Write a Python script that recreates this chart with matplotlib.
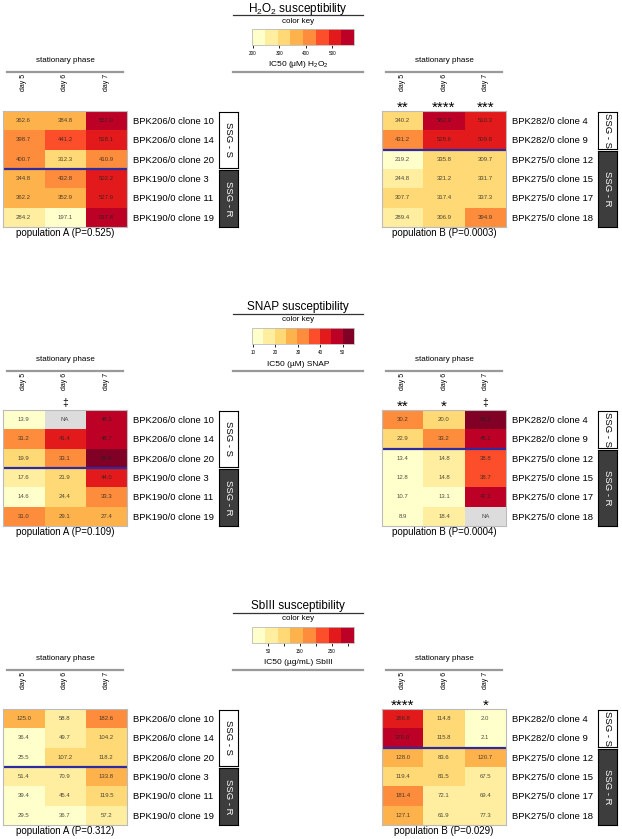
import numpy as np
import matplotlib
matplotlib.use("Agg")
import matplotlib.pyplot as plt
from matplotlib.colors import ListedColormap, BoundaryNorm
from matplotlib.colorbar import ColorbarBase

plt.rcParams["font.family"] = ["Liberation Sans", "DejaVu Sans"]
plt.rcParams["mathtext.fontset"] = "custom"
plt.rcParams["mathtext.rm"] = "Liberation Sans"
plt.rcParams["mathtext.default"] = "rm"

# ---- data -------------------------------------------------------------
days = ["day 5", "day 6", "day 7"]
clones_a = ["BPK206/0 clone 10", "BPK206/0 clone 14", "BPK206/0 clone 20",
            "BPK190/0 clone 3", "BPK190/0 clone 11", "BPK190/0 clone 19"]
clones_b = ["BPK282/0 clone 4", "BPK282/0 clone 9",
            "BPK275/0 clone 12", "BPK275/0 clone 15", "BPK275/0 clone 17", "BPK275/0 clone 18"]
groups_a = [3, 3]
groups_b = [2, 4]
group_names = ["SSG - S", "SSG - R"]

h2o2_a = [[362.6, 384.8, 557.0],
          [398.7, 441.2, 518.1],
          [400.7, 312.3, 410.9],
          [344.8, 432.8, 502.2],
          [362.2, 352.9, 527.9],
          [284.2, 197.1, 537.8]]
h2o2_b = [[340.2, 582.3, 510.3],
          [431.2, 528.6, 509.8],
          [219.2, 335.8, 309.7],
          [244.8, 321.2, 331.7],
          [307.7, 317.4, 337.3],
          [289.4, 306.9, 394.9]]
snap_a = [[13.9, np.nan, 48.3],
          [31.2, 41.4, 48.7],
          [19.9, 33.1, 55.0],
          [17.6, 21.9, 44.0],
          [14.6, 24.4, 33.3],
          [31.0, 29.1, 27.4]]
snap_b = [[30.2, 20.0, 58.2],
          [22.9, 33.2, 45.1],
          [13.4, 14.8, 38.8],
          [12.8, 14.8, 38.7],
          [10.7, 13.1, 47.1],
          [8.9, 18.4, np.nan]]
sb_a = [[125.0, 58.8, 182.6],
        [36.4, 49.7, 104.2],
        [25.5, 107.2, 118.2],
        [51.4, 70.9, 133.8],
        [39.4, 45.4, 119.5],
        [29.5, 36.7, 57.2]]
sb_b = [[266.8, 114.8, 2.0],
        [370.0, 115.8, 2.1],
        [128.0, 83.6, 120.7],
        [119.4, 81.5, 67.5],
        [181.4, 72.1, 69.4],
        [127.1, 61.9, 77.3]]

no_marks = ["", "", ""]
h2o2_b_marks = ["**", "****", "***"]
snap_a_marks = ["", "\u2021", ""]
snap_b_marks = ["**", "*", "\u2021"]
sb_b_marks = ["****", "", "*"]

h2o2_p = ["0.525", "0.0003"]
snap_p = ["0.109", "0.0004"]
sb_p = ["0.312", "0.029"]

ylorrd = ["#FFFFCC", "#FFEDA0", "#FED976", "#FEB24C", "#FD8D3C",
          "#FC4E2A", "#E31A1C", "#BD0026", "#800026"]
h2o2_range = [196, 583]
snap_range = [9.6, 55.0]
sb_range = [0, 320]
h2o2_ticks = [200, 300, 400, 500]
h2o2_ticklabels = ["200", "300", "400", "500"]
snap_ticks = [10, 20, 30, 40, 50]
snap_ticklabels = ["10", "20", "30", "40", "50"]
sb_ticks = [50, 100, 150, 200, 250, 300]
sb_ticklabels = ["50", "", "150", "", "250", ""]

# ---- layout -----------------------------------------------------------
W, H = 622, 839
PT = 0.72          # points per pixel at 100 dpi
ROW_H = 19.3
HM_W = 124

fig = plt.figure(figsize=(W / 100, H / 100), dpi=100)


def px_axes(x0, y0, x1, y1):
    return fig.add_axes([x0 / W, 1 - y1 / H, (x1 - x0) / W, (y1 - y0) / H])


def draw_key(top, title, label, colors, rng, ticks, ticklabels):
    kx = px_axes(233, top - 96, 363, top - 39)
    kx.set_xticks([])
    kx.set_yticks([])
    kx.patch.set_alpha(0)
    kx.spines["left"].set_visible(False)
    kx.spines["right"].set_visible(False)
    kx.spines["top"].set_color("#333333")
    kx.spines["top"].set_linewidth(0.9)
    kx.spines["bottom"].set_color("#999999")
    kx.spines["bottom"].set_linewidth(1.6)
    kx.annotate(title, xy=(0.5, 1), xycoords="axes fraction", xytext=(0, 3.5 * PT),
                textcoords="offset points", ha="center", va="baseline", fontsize=8.5)
    kx.text(0.5, 1 - 6 / 57, "color key", ha="center", va="center", fontsize=5.8,
            transform=kx.transAxes)
    kx.text(0.5, 7 / 57, label, ha="center", va="center", fontsize=6,
            transform=kx.transAxes)
    cmap = ListedColormap(colors)
    norm = BoundaryNorm(np.linspace(rng[0], rng[1], len(colors) + 1), len(colors))
    cax = px_axes(252, top - 82, 354, top - 66)
    cb = ColorbarBase(cax, cmap=cmap, norm=norm, orientation="horizontal", ticks=ticks)
    cb.set_ticklabels(ticklabels)
    cb.minorticks_off()
    cax.tick_params(labelsize=3.3, length=2.5, width=0.6, pad=1.5)
    cb.outline.set_edgecolor("#BBBBBB")
    cb.outline.set_linewidth(0.6)


def draw_panel(x0, top, vals, clones, groups, marks, pop, colors, rng):
    n = len(clones)
    cmap = ListedColormap(colors)
    cmap.set_bad("#DCDCDC")
    norm = BoundaryNorm(np.linspace(rng[0], rng[1], len(colors) + 1), len(colors), clip=True)
    arr = np.array(vals, dtype=float)
    ax = px_axes(x0, top, x0 + HM_W, top + n * ROW_H)
    ax.imshow(np.ma.masked_invalid(arr), cmap=cmap, norm=norm, aspect="auto",
              interpolation="nearest")
    for i in range(n):
        for j in range(len(days)):
            v = arr[i, j]
            txt = "NA" if np.isnan(v) else f"{v:.1f}"
            ax.text(j, i, txt, ha="center", va="center", fontsize=4.3,
                    color="#222222", alpha=0.8)
    ax.xaxis.tick_top()
    ax.set_xticks(range(len(days)), days, rotation=90, fontsize=5)
    ax.tick_params(axis="x", length=0, pad=20 * PT)
    ax.yaxis.tick_right()
    ax.set_yticks(range(n), clones, fontsize=6.8)
    ax.tick_params(axis="y", length=0, pad=6 * PT)
    for s in ax.spines.values():
        s.set_color("#BBBBBB")
        s.set_linewidth(0.8)
    ax.axhline(groups[0] - 0.5, color="#2c2ca0", lw=1.6)

    for j, m in enumerate(marks):
        if m == "\u2021":
            ax.annotate(m, xy=(j, -0.5), xytext=(0, 2 * PT), textcoords="offset points",
                        ha="center", va="bottom", fontsize=7.5, annotation_clip=False)
        elif m:
            ax.annotate(m, xy=(j, -0.5), xytext=(0, -1 * PT), textcoords="offset points",
                        ha="center", va="baseline", fontsize=11, annotation_clip=False)

    ax.annotate("stationary phase", xy=(0.5, 1), xycoords="axes fraction",
                xytext=(0, 51 * PT), textcoords="offset points",
                ha="center", va="center", fontsize=5.8)
    ax.plot([4 / HM_W, 1 - 4 / HM_W], [1 + 39 / (n * ROW_H)] * 2, transform=ax.transAxes,
            clip_on=False, color="#999999", lw=1.6)
    ax.annotate(pop, xy=(0.5, 0), xycoords="axes fraction", xytext=(0, -1 * PT),
                textcoords="offset points", ha="center", va="top", fontsize=7)
    ax.set_xlim(-0.5, len(days) - 0.5)
    ax.set_ylim(n - 0.5, -0.5)

    r0 = 0
    for k, (g, name) in enumerate(zip(groups, group_names)):
        y0 = top + r0 * ROW_H + 1
        y1 = top + (r0 + g) * ROW_H - (1 if k == 0 else 0)
        bx = px_axes(x0 + 216, y0, x0 + 235, y1)
        dark = name.endswith("R")
        bx.set_facecolor("#3d3d3d" if dark else "white")
        bx.set_xticks([])
        bx.set_yticks([])
        for s in bx.spines.values():
            s.set_color("black")
            s.set_linewidth(0.8)
        bx.text(0.5, 0.5, name, rotation=270, ha="center", va="center", fontsize=6.8,
                color="white" if dark else "black", transform=bx.transAxes, clip_on=True)
        r0 += g


sections = [
    (111, r"H$_2$O$_2$ susceptibility", r"IC50 ($\mu$M) H$_2$O$_2$", ylorrd[:8], h2o2_range,
     h2o2_ticks, h2o2_ticklabels, h2o2_a, h2o2_b, no_marks, h2o2_b_marks, h2o2_p),
    (410, "SNAP susceptibility", "IC50 (\u00b5M) SNAP", ylorrd, snap_range,
     snap_ticks, snap_ticklabels, snap_a, snap_b, snap_a_marks, snap_b_marks, snap_p),
    (709, "SbIII susceptibility", "IC50 (\u00b5g/mL) SbIII", ylorrd[:8], sb_range,
     sb_ticks, sb_ticklabels, sb_a, sb_b, no_marks, sb_b_marks, sb_p),
]

for (top, title, label, colors, rng, ticks, tlabels,
     va, vb, ma, mb, pv) in sections:
    draw_key(top, title, label, colors, rng, ticks, tlabels)
    draw_panel(3, top, va, clones_a, groups_a, ma, f"population A (P={pv[0]})", colors, rng)
    draw_panel(382, top, vb, clones_b, groups_b, mb, f"population B (P={pv[1]})", colors, rng)

fig.savefig("out.png", dpi=100)
